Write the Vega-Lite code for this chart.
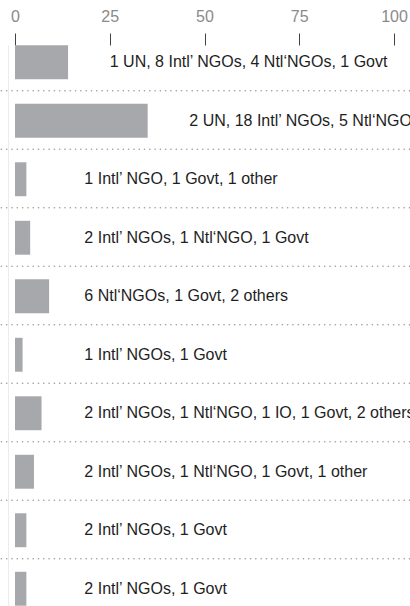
{
  "$schema": "https://vega.github.io/schema/vega-lite/v6.json",
  "autosize": {"type": "none"},
  "padding": {"left": 15, "top": 45, "right": 16, "bottom": 0},
  "width": 379,
  "height": 561,
  "background": "white",
  "config": {"view": {"stroke": null}, "font": "Liberation Sans"},
  "data": {
    "values": [
      {"row": 1, "value": 14, "label": "1 UN, 8 Intl’ NGOs, 4 Ntl‘NGOs, 1 Govt"},
      {"row": 2, "value": 35, "label": "2 UN, 18 Intl’ NGOs, 5 Ntl‘NGOs, 1 Govt, 9 others"},
      {"row": 3, "value": 3, "label": "1 Intl’ NGO, 1 Govt, 1 other"},
      {"row": 4, "value": 4, "label": "2 Intl’ NGOs, 1 Ntl‘NGO, 1 Govt"},
      {"row": 5, "value": 9, "label": "6 Ntl‘NGOs, 1 Govt, 2 others"},
      {"row": 6, "value": 2, "label": "1 Intl’ NGOs, 1 Govt"},
      {"row": 7, "value": 7, "label": "2 Intl’ NGOs, 1 Ntl‘NGO, 1 IO, 1 Govt, 2 others"},
      {"row": 8, "value": 5, "label": "2 Intl’ NGOs, 1 Ntl‘NGO, 1 Govt, 1 other"},
      {"row": 9, "value": 3, "label": "2 Intl’ NGOs, 1 Govt"},
      {"row": 10, "value": 3, "label": "2 Intl’ NGOs, 1 Govt"}
    ]
  },
  "encoding": {
    "y": {
      "field": "row",
      "type": "ordinal",
      "scale": {"paddingInner": 0.42, "paddingOuter": 0.005},
      "axis": {
        "title": null,
        "labels": false,
        "ticks": false,
        "grid": false,
        "domain": true,
        "domainColor": "#ececec",
        "domainWidth": 1,
        "offset": 7
      }
    }
  },
  "layer": [
    {
      "transform": [{"filter": "datum.row < 10"}],
      "mark": {"type": "rule", "color": "#a0a0a0", "strokeWidth": 1.6, "strokeDash": [0.1, 5.2], "strokeCap": "round"},
      "encoding": {
        "x": {"datum": -3.6, "type": "quantitative", "scale": {"domain": [0, 100], "nice": false}},
        "x2": {"datum": 104.5},
        "yOffset": {"value": 45.5}
      }
    },
    {
      "mark": {"type": "bar", "color": "#a7a8ab"},
      "encoding": {
        "x": {
          "field": "value",
          "type": "quantitative",
          "scale": {"domain": [0, 100], "nice": false},
          "axis": {
            "orient": "top",
            "title": null,
            "values": [0, 25, 50, 75, 100],
            "grid": false,
            "domain": false,
            "offset": 0,
            "tickSize": 12,
            "tickColor": "#444",
            "tickWidth": 1,
            "labelFontSize": 16,
            "labelColor": "#8a8a8a",
            "labelPadding": 9,
            "labelFlush": false,
            "labelBound": false,
            "labelOverlap": false,
            "labelFont": "Liberation Sans"
          }
        }
      }
    },
    {
      "transform": [{"calculate": "datum.value >= 10 ? datum.value + 11 : 18.3", "as": "labelX"}],
      "mark": {"type": "text", "align": "left", "baseline": "middle", "fontSize": 16, "color": "#1e1e1e", "font": "Liberation Sans"},
      "encoding": {
        "x": {"field": "labelX", "type": "quantitative"},
        "text": {"field": "label"}
      }
    }
  ]
}
